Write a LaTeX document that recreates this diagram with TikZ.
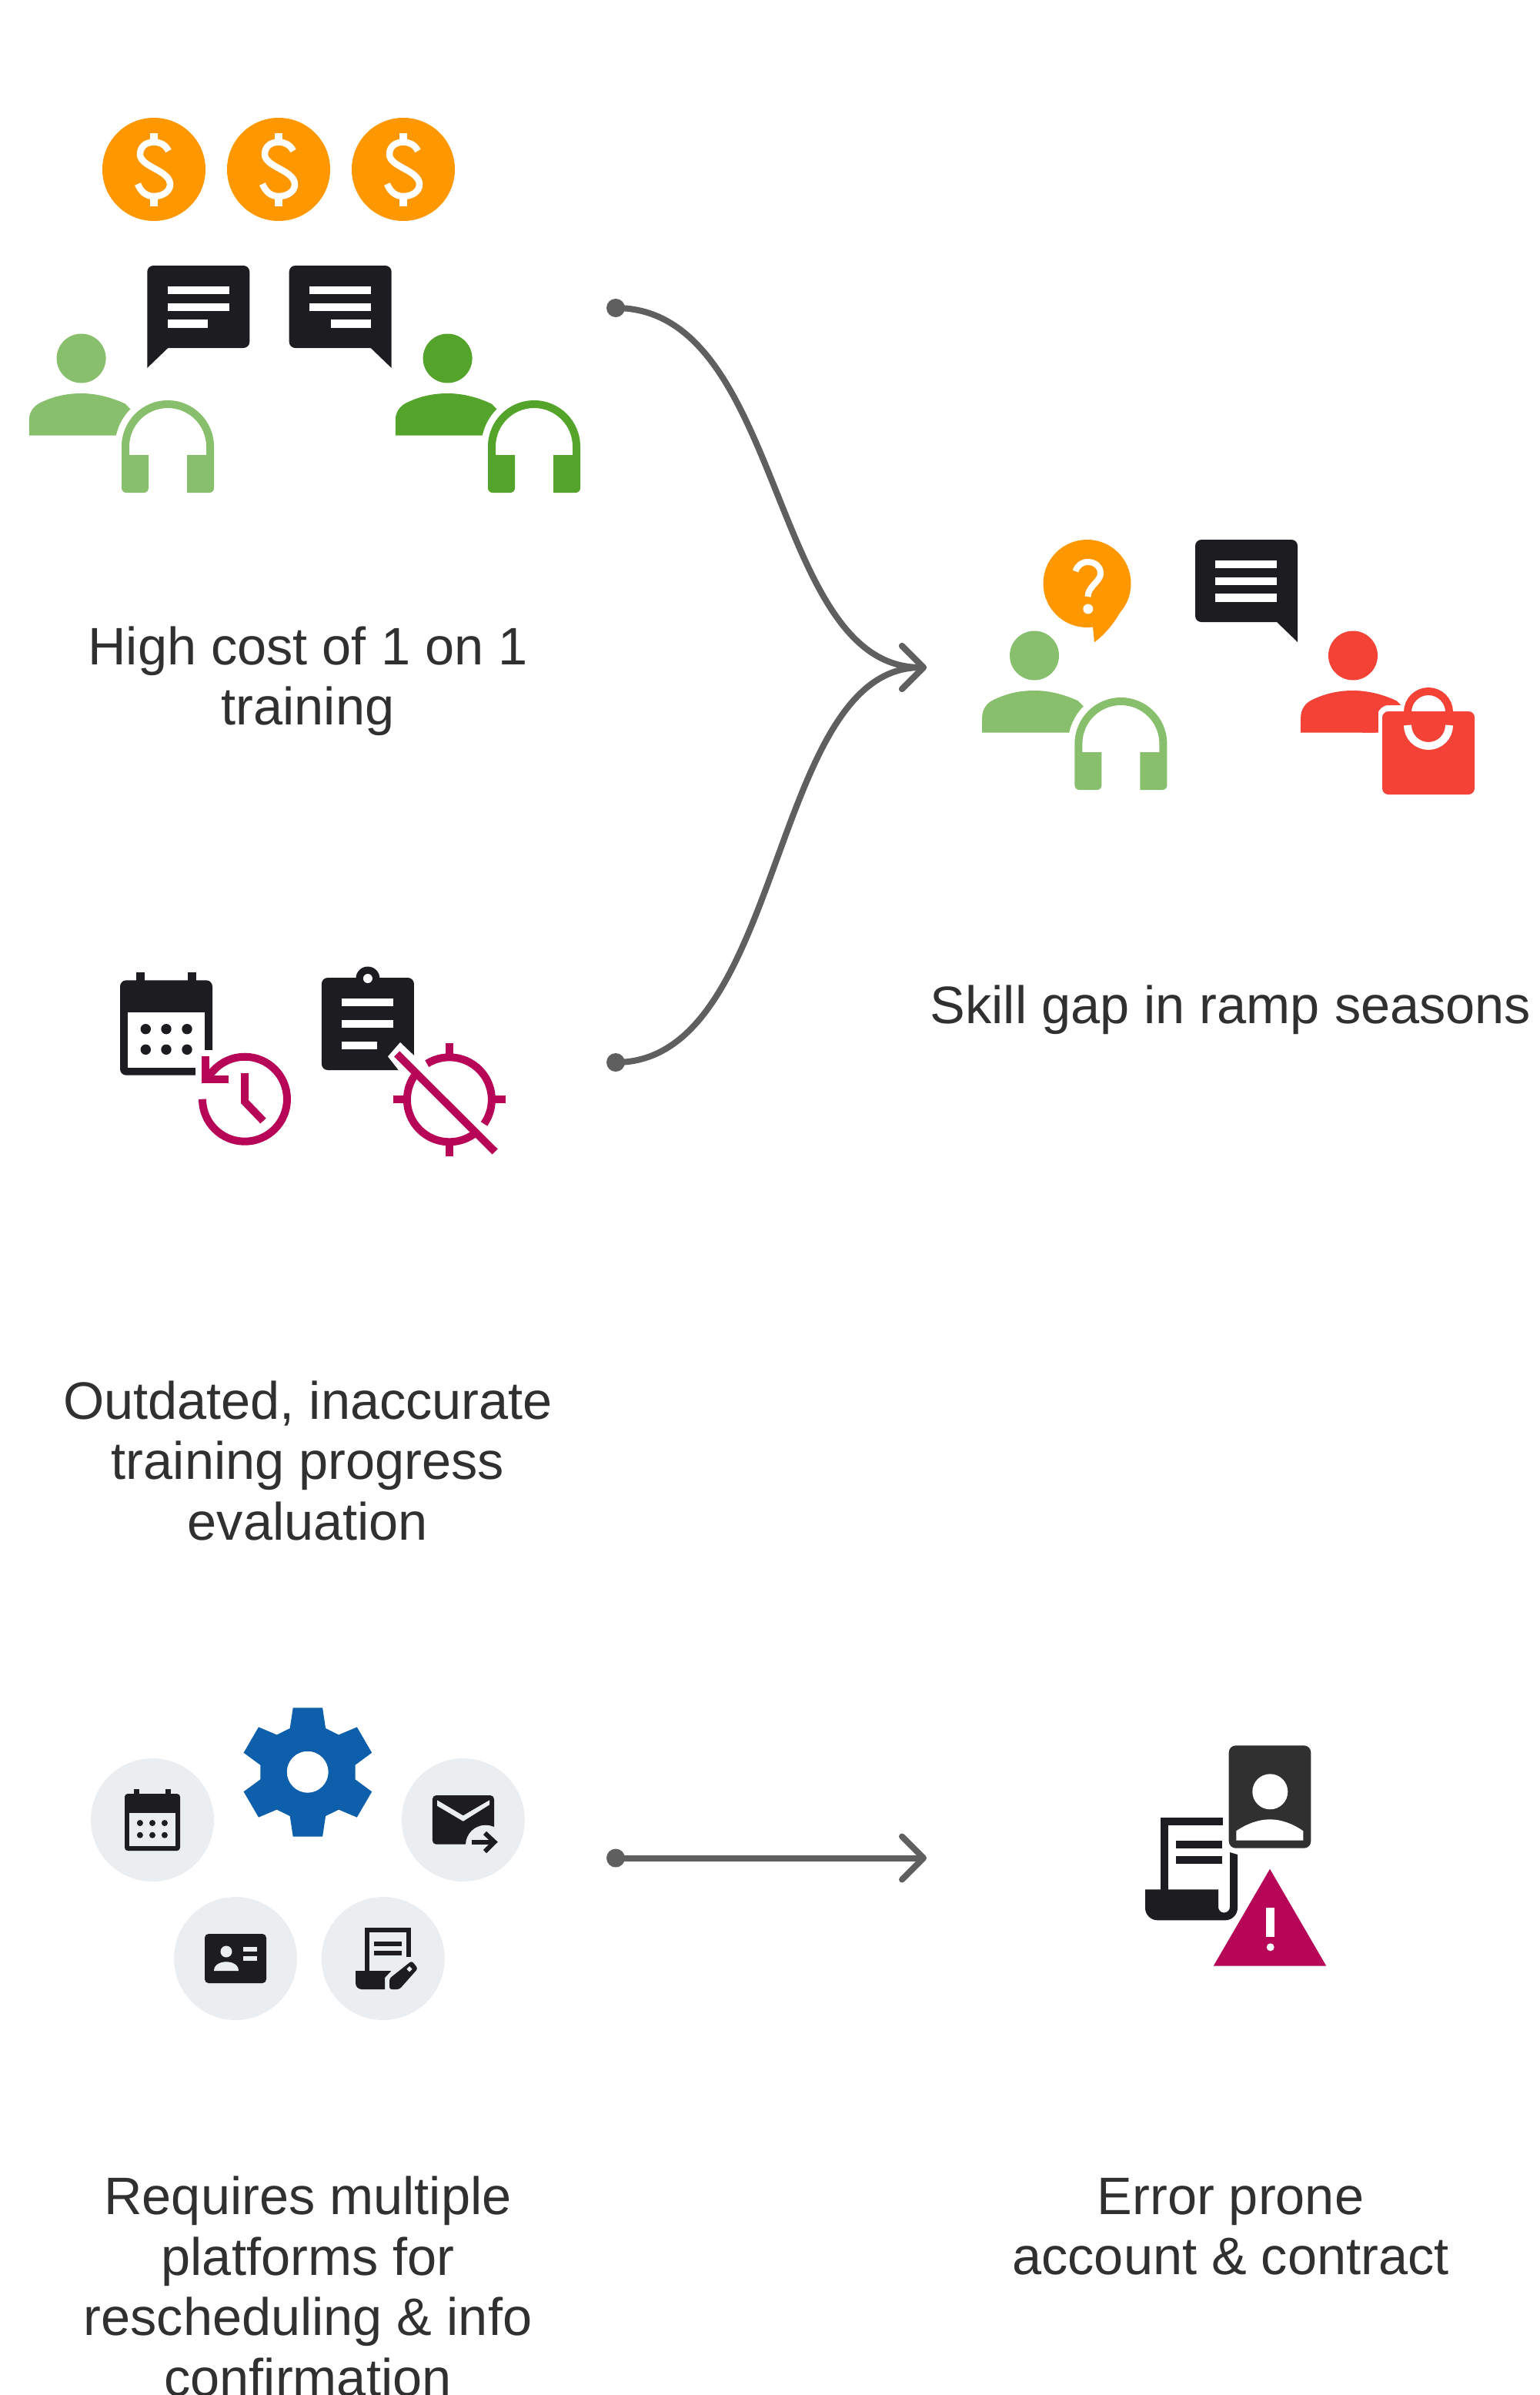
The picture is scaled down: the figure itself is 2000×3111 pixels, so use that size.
\documentclass[tikz,border=0pt]{standalone}
\usepackage{fontspec}
\setmainfont{Liberation Sans}
\usetikzlibrary{positioning,arrows.meta}
\definecolor{ink}{HTML}{1C1C21}
\definecolor{cardgrey}{HTML}{303030}
\definecolor{coinorange}{HTML}{FF9800}
\definecolor{agentlight}{HTML}{88BF6D}
\definecolor{agentdark}{HTML}{54A32B}
\definecolor{buyerred}{HTML}{F44336}
\definecolor{alertpink}{HTML}{B70657}
\definecolor{gearblue}{HTML}{0D5EAB}
\definecolor{chipgrey}{HTML}{EBEEF1}
\definecolor{flowgrey}{HTML}{5F5F5F}
\tikzset{
  flip/.style={yscale=-1},
  caption/.style={align=center, text=cardgrey, font=\fontsize{68.5}{78.5}\selectfont},
  flow/.style={draw=flowgrey, line width=8, -{Straight Barb[length=28,width=56,line width=8,round]}},
  chip/.style={fill=chipgrey},
  alert/.style={draw=alertpink, line width=10},
  pics/coin/.style={code={
    \fill[coinorange] (0,0) circle [radius=67];
    \draw[white, line width=8.5] (19,-24) .. controls (15,-32) and (8,-35.4) .. (0,-35.4)
      .. controls (-11,-35.4) and (-18,-29) .. (-18,-19.6)
      .. controls (-18,-3) and (21,1) .. (21,19.6)
      .. controls (21,29) and (11,35) .. (0,35)
      .. controls (-10,35) and (-17,29) .. (-21,19);
    \fill[white] (-5,-47.5) rectangle (5,-36);
    \fill[white] (-5,36) rectangle (5,47.5);
  }},
  pics/chat/.style={code={
    \fill[ink] (0,133) [rounded corners=8] -- (0,0) -- (133,0) -- (133,107) [sharp corners] -- (27,107) -- cycle;
    \fill[white] (27,27) rectangle (107,37);
    \fill[white] (27,49) rectangle (107,59);
    \fill[white] (27,70) rectangle +(#1,11);
  }},
  pics/agent/.style={code={
    \fill[#1] (0,0) circle [radius=32];
    \fill[#1] (-67.8,100.2) -- (-67.8,80) .. controls (-67.8,70) and (-62,62) .. (-54,58)
      .. controls (-36,49) and (-18,45.5) .. (0,45.5)
      .. controls (18,45.5) and (38,50) .. (57,59) -- (63.8,65.9)
      arc [start angle=225, end angle=192, radius=68.5] -- cycle;
  }},
  pics/headset/.style={code={
    \fill[#1] (35,60) -- (35,11) -- (10,11) -- (10,0) arc [start angle=180, end angle=360, radius=50]
      -- (110,11) -- (85,11) -- (85,60) [rounded corners=6] -- (120,60) [sharp corners] -- (120,0)
      arc [start angle=360, end angle=180, radius=60] [rounded corners=6] -- (0,60) -- cycle;
  }}
}
\begin{document}
\begin{tikzpicture}[x=1pt, y=1pt, yscale=-1]
  \useasboundingbox (0,0) rectangle (2000,3111);

  % start dots and arrow ends
  \coordinate (p1) at (800,400);
  \coordinate (p2) at (800,1380);
  \coordinate (p3) at (800,2413.5);
  \coordinate (q1) at (1204,867);
  \coordinate (q3) at (1204,2413.5);

  \draw[flow] (p1) .. controls +(220,0) and +(-205,0) .. (q1);
  \draw[flow] (p2) .. controls +(220,0) and +(-205,0) .. (q1);
  \draw[flow] (p3) -- (q3);
  \foreach \p in {p1,p2,p3} {
    \fill[flowgrey] (\p) circle [radius=12];
  }

  % coins and one on one chat
  \foreach \x in {200,362,524} {
    \pic[flip] at (\x,220) {coin};
  }
  \pic[flip] at (191.3,345) {chat=52};
  \pic[flip,xscale=-1] at (508.7,345) {chat=52};
  \pic[flip] at (105.6,465.5) {agent=agentlight};
  \pic[flip] at (158,580) {headset=agentlight};
  \pic[flip] at (581.6,465.5) {agent=agentdark};
  \pic[flip] at (634,580) {headset=agentdark};
  \node[caption] (cost) at (400,885) {High cost of 1 on 1\\training};

  % calendar with clock
  \fill[ink] (177,1263) rectangle (187.5,1280);
  \fill[ink] (244,1263) rectangle (255,1280);
  \fill[ink, rounded corners=8] (156,1273.3) rectangle (276,1396.7);
  \fill[white] (166,1315) rectangle (266,1386.7);
  \fill[white] (253.6,1364) rectangle (277,1398);
  \foreach \x in {189.3,216,243} {
    \foreach \y in {1336.7,1363.3} {
      \fill[ink] (\x,\y) circle [radius=6.7];
    }
  }
  \draw[alert] (263,1427.7) arc [start angle=180, end angle=-138, radius=55] -- (268,1400);
  \draw[alert, miter limit=10] (266.8,1371.7) -- (266.8,1401.7) -- (296.8,1401.7);
  \draw[alert] (318,1394) -- (318,1431) -- (342,1456);

  % clipboard with target
  \fill[ink] (477.9,1271) circle [radius=15.5];
  \fill[ink, rounded corners=8] (417.9,1270) rectangle (537.9,1390);
  \fill[white] (477.9,1271) circle [radius=6];
  \fill[white] (444.3,1296.7) rectangle (511.4,1306.7);
  \fill[white] (444.3,1325) rectangle (511.4,1335);
  \fill[white] (444.3,1353.3) rectangle (490,1363.3);
  \fill[white] (539,1372) -- (520,1354) -- (504,1372.3) -- (518.6,1391) -- (539,1391) -- cycle;
  \draw[alert] (583.9,1428.3) ++(-122:55) arc [start angle=-122, end angle=35, radius=55];
  \draw[alert] (583.9,1428.3) ++(214:55) arc [start angle=214, end angle=55, radius=55];
  \draw[alert] (583.9,1355) -- (583.9,1373);
  \draw[alert] (583.9,1483) -- (583.9,1501.7);
  \draw[alert] (511,1428.3) -- (529,1428.3);
  \draw[alert] (639,1428.3) -- (657,1428.3);
  \draw[alert] (515.7,1369) -- (643.2,1496);
  \node[caption] (outdated) at (400,1897) {Outdated, inaccurate\\training progress\\evaluation};

  % gear and tool chips
  \fill[gearblue, even odd rule] (399.7,2301.7) ++(-19,-83.3) -- ++(38.4,0) -- ++(4,26.6) -- ++(17,8.4) -- ++(23.7,-10)
    -- ++(19.4,33.3) -- ++(-21.7,16) -- ++(0,18.6) -- ++(21.7,16) -- ++(-19.4,33.3) -- ++(-23.7,-10)
    -- ++(-17,8.4) -- ++(-4,26.6) -- ++(-38.4,0) -- ++(-4,-26.6) -- ++(-17,-8.4) -- ++(-23.7,10)
    -- ++(-19.4,-33.3) -- ++(21.7,-16) -- ++(0,-18.6) -- ++(-21.7,-16) -- ++(19.4,-33.3)
    -- ++(23.7,10) -- ++(17,-8.4) -- cycle (399.7,2301.7) circle [radius=27];
  \fill[chip] (198,2364) circle [radius=80];
  \fill[chip] (601.8,2364) circle [radius=80];
  \fill[chip] (306,2544) circle [radius=80];
  \fill[chip] (497.8,2544) circle [radius=80];

  % small calendar
  \fill[ink] (174.3,2324) rectangle (181,2335);
  \fill[ink] (215,2324) rectangle (221.8,2335);
  \fill[ink, rounded corners=4] (162,2330) rectangle (234,2404);
  \fill[chip] (168,2355) rectangle (228,2398);
  \foreach \x in {181.9,198,213.9} {
    \foreach \y in {2368,2383.7} {
      \fill[ink] (\x,\y) circle [radius=4];
    }
  }

  % mail
  \fill[ink, rounded corners=5] (561.9,2332) rectangle (642,2395.7);
  \fill[chip] (568,2338.3) -- (601.8,2358.3) -- (636,2338.3) -- (636,2344.3) -- (601.8,2365.7) -- (568,2345.7) -- cycle;
  \fill[chip] (631,2396.7) circle [radius=26];
  \fill[chip] (605,2396) rectangle (650,2410);
  \draw[ink, line width=6] (612.8,2392.7) -- (642,2392.7);
  \draw[ink, line width=6] (630,2381) -- (642.5,2392.7) -- (630,2405);

  % id card
  \fill[ink, rounded corners=5] (266,2512) rectangle (346,2576);
  \fill[chip] (294,2535) circle [radius=7.5];
  \fill[chip] (278,2560) .. controls (278,2552) and (286,2548.3) .. (294,2548.3) .. controls (302,2548.3) and (310,2552) .. (310,2560) -- cycle;
  \fill[chip] (316,2529) rectangle (334,2535);
  \fill[chip] (316,2541) rectangle (334,2547);

  % sheet and pencil
  \draw[ink, line width=6] (477,2561) -- (477,2507) -- (531,2507) -- (531,2542);
  \fill[ink] (486,2522) rectangle (522,2528);
  \fill[ink] (486,2534) rectangle (522,2540);
  \fill[ink] (508.4,2560) -- (500,2569) -- (500,2584) [rounded corners=8] -- (462,2584) [sharp corners] -- (462,2560) -- cycle;
  \fill[ink, rounded corners=3] (506,2584) -- (506,2570) -- (535,2547) -- (543,2557) -- (519,2584) -- cycle;
  \fill[chip] (532,2554) -- (535.5,2557.7) -- (532,2561.4) -- (528.5,2557.7) -- cycle;
  \node[caption] (platforms) at (400,2970) {Requires multiple\\platforms for\\rescheduling \& info\\confirmation};

  % skill gap
  \pic[flip] at (1344,851.5) {agent=agentlight};
  \pic[flip] at (1396.4,966) {headset=agentlight};
  \fill[coinorange] (1412.5,758) circle [radius=57];
  \fill[coinorange] (1419.6,810) -- (1421.9,834.3) .. controls (1445,817) and (1462,790) .. (1469,760) -- cycle;
  \draw[white, line width=8] (1397.5,742) .. controls (1400,734) and (1406,730) .. (1413.5,730)
    .. controls (1423,730) and (1430,736) .. (1430,745) .. controls (1430,755) and (1413.5,762) .. (1413.5,775);
  \fill[white] (1413.8,791) circle [radius=6.5];
  \pic[flip,xscale=-1] at (1686,701) {chat=80};
  \pic[flip] at (1758,851.5) {agent=buyerred};
  % white margin round the bag
  \fill[white] (1791,916) rectangle (1830,955);
  \fill[buyerred] (1788,951.7) -- (1788,936) .. controls (1788,925) and (1795,916) .. (1804,916) -- (1817,916) -- (1817,913) -- (1780,900) -- (1770,951.7) -- cycle;
  \fill[buyerred, rounded corners=8] (1796,924) rectangle (1916,1032);
  \draw[buyerred, line width=10] (1829,925) arc [start angle=180, end angle=360, radius=27];
  \draw[white, line width=10] (1829,942) arc [start angle=180, end angle=0, radius=27];
  \node[caption] (gap) at (1599,1312) {Skill gap in ramp seasons};

  % contract with warning
  \draw[ink, line width=10] (1513,2456) -- (1513,2366) -- (1588.7,2366);
  \fill[ink] (1528,2391.3) rectangle (1588,2401.3);
  \fill[ink] (1528,2411.3) rectangle (1588,2421.3);
  \fill[ink] (1488,2454.3) -- (1583,2454.3) -- (1583,2477) arc [start angle=180, end angle=0, radius=7.5]
    -- (1598,2406) -- (1608,2409) [rounded corners=16] -- (1608,2494.3) -- (1488,2494.3) [sharp corners] -- cycle;
  \fill[cardgrey, rounded corners=9] (1596.7,2267.3) rectangle (1703.3,2400.7);
  \fill[white] (1650.3,2327.3) circle [radius=23];
  \fill[white] (1606.3,2390.7) -- (1606.3,2378.3) .. controls (1620,2369) and (1635,2363.3) .. (1650,2363.3)
    .. controls (1665,2363.3) and (1680,2369) .. (1693.3,2378.3) -- (1693.3,2390.7) -- cycle;
  \fill[alertpink] (1650,2427.7) -- (1723.3,2553.7) -- (1576.7,2553.7) -- cycle;
  \fill[white] (1645.3,2478.3) rectangle (1655.7,2516);
  \fill[white] (1650.7,2529.3) circle [radius=5];
  \node[caption] (error) at (1599,2892) {Error prone\\account \& contract};
\end{tikzpicture}
\end{document}
